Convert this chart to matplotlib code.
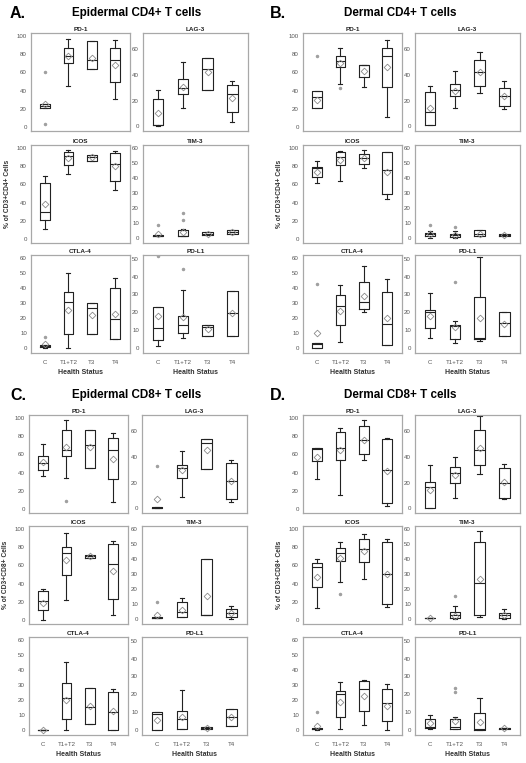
import matplotlib
matplotlib.use('Agg')
import matplotlib.pyplot as plt

plt.rcParams['font.family'] = ['Liberation Sans', 'DejaVu Sans']

W, H = 526, 763
fig = plt.figure(figsize=(W / 100, H / 100), dpi=100)

categories = ['C', 'T1+T2', 'T3', 'T4']
markers = ['PD-1', 'LAG-3', 'ICOS', 'TIM-3', 'CTLA-4', 'PD-L1']
panel_letters = ['A.', 'B.', 'C.', 'D.']
panel_titles = ['Epidermal CD4+ T cells', 'Dermal CD4+ T cells',
                'Epidermal CD8+ T cells', 'Dermal CD8+ T cells']
panel_ylabels = ['% of CD3+CD4+ Cells', '% of CD3+CD4+ Cells',
                 '% of CD3+CD8+ Cells', '% of CD3+CD8+ Cells']
xlabel = 'Health Status'

ticks_pd1 = [0, 20, 40, 60, 80, 100]
ticks_lag3 = [0, 20, 40, 60]
ticks_icos = [0, 20, 40, 60, 80, 100]
ticks_tim3 = [0, 10, 20, 30, 40, 50, 60]
ticks_ctla4 = [0, 10, 20, 30, 40, 50, 60]
ticks_pdl1 = [0, 10, 20, 30, 40, 50]

# each box: (whisker low, Q1, median, Q3, whisker high, mean), order C, T1+T2, T3, T4
A_PD1 = [(21, 21, 23, 25, 25, 26), (45, 70, 78, 87, 96, 78), (64, 64, 73, 94, 94, 76), (31, 50, 73.5, 86.5, 95, 68)]
A_PD1_out = [[60, 3.6], [], [], []]
A_LAG3 = [(0.5, 1, 1, 21, 28.4, 10.3), (14, 25, 30, 37, 50, 31), (28.4, 28.4, 44.4, 53, 53, 41.9), (3.4, 11.6, 25, 32.3, 35.4, 22)]
A_LAG3_out = [[], [], [], []]
A_ICOS = [(11, 20.8, 30, 61.7, 69, 38.3), (71, 81, 91, 95.6, 97.4, 88.3), (85.4, 85.4, 90, 92, 92, 90), (54.4, 63.5, 82.8, 94, 96, 80)]
A_ICOS_out = [[], [], [], []]
A_TIM3 = [(1, 1, 1.5, 2, 2, 2.7), (1, 1, 1.5, 5.4, 5.6, 3.8), (1.6, 1.6, 2.7, 3.8, 3.8, 2.7), (2.7, 2.7, 3.8, 4.9, 4.9, 3.8)]
A_TIM3_out = [[8.3], [16.5, 11.6], [], []]
A_CTLA4 = [(0.5, 0.7, 1.6, 2.2, 2.2, 3.3), (0.4, 9.3, 30.7, 37.3, 50, 25.6), (9.3, 9.3, 27, 30, 30, 22.2), (6.2, 6.2, 19.6, 39.8, 46.7, 22.9)]
A_CTLA4_out = [[7.8], [], [], []]
A_PDL1 = [(1.1, 4.7, 11.2, 22.8, 22.8, 18.1), (5.6, 8.6, 13, 18.1, 32.3, 17.5), (6.9, 6.9, 12.1, 13, 13, 10.6), (7.1, 7.1, 19.6, 31.7, 31.7, 19.6)]
A_PDL1_out = [[51.3], [44], [], []]

B_PD1 = [(21, 21, 33.5, 39.3, 39.3, 30), (47, 65.5, 72.7, 78, 87, 70), (43.6, 55, 68, 68, 68, 61.8), (11.6, 44.4, 78, 86.5, 95, 65.5)]
B_PD1_out = [[78], [43], [], []]
B_LAG3 = [(0.8, 0.8, 10.9, 27, 31.5, 14.2), (14.2, 23.8, 28.4, 32.8, 43.4, 27.9), (25.8, 31.5, 41.9, 51.2, 57.4, 41.9), (13.7, 16, 23.3, 30.2, 35.4, 23.3)]
B_LAG3_out = [[], [], [], []]
B_ICOS = [(61, 68.2, 78, 78.5, 85.8, 73.7), (63.5, 81, 90, 95.6, 96.7, 86.5), (77.4, 82.8, 88.3, 92.7, 97.4, 88.3), (44.5, 49.3, 75.5, 95.6, 95.6, 73)]
B_ICOS_out = [[], [], [], []]
B_TIM3 = [(0, 1.1, 2.2, 3.3, 4.5, 2.7), (0, 0.4, 1.6, 2.7, 4.5, 1.6), (0.9, 0.9, 2.7, 4.9, 4.9, 2.7), (1.3, 1.3, 1.8, 2.2, 2.2, 1.8)]
B_TIM3_out = [[8.7], [7.1], [], []]
B_CTLA4 = [(0.4, 0.4, 3.1, 3.6, 3.6, 10), (4.2, 15.7, 28, 35.3, 42, 25), (24.2, 26.2, 30.9, 44.3, 54.4, 35.1), (2.2, 2.2, 16.1, 37.6, 45.9, 20.1)]
B_CTLA4_out = [[43], [], [], []]
B_PDL1 = [(5.5, 11.3, 20.1, 21.6, 31, 17.9), (2.8, 5.3, 12.2, 13.2, 15.4, 11.7), (4.1, 5.1, 6, 28.6, 50.8, 16.9), (7.1, 7.1, 14.1, 20.3, 20.3, 13.7)]
B_PDL1_out = [[], [37], [], []]

C_PD1 = [(36.8, 43, 50.4, 58, 71, 52), (33.8, 57.7, 64.3, 87, 98, 68), (44.9, 44.9, 70.6, 86.4, 86.4, 68), (8.5, 33, 65, 78, 83.5, 55)]
C_PD1_out = [[], [9.2], [], []]
C_LAG3 = [(0, 0, 0.5, 1.3, 1.3, 7), (9.1, 23.5, 31.3, 34, 44.4, 29.5), (30.5, 30.5, 51, 54, 54, 45.2), (5.2, 7, 21.7, 35.2, 37.3, 21.4)]
C_LAG3_out = [[32.6], [], [], []]
C_ICOS = [(0, 11.7, 21, 32.3, 34.2, 19.2), (21.8, 49.2, 73.7, 80, 95, 66.2), (68, 68, 70, 71.8, 71.8, 70), (5.6, 23.7, 61.3, 83.8, 86.8, 53.8)]
C_ICOS_out = [[], [], [], []]
C_TIM3 = [(0.2, 0.2, 0.6, 1.1, 1.1, 2.3), (1.1, 1.1, 4.5, 11.3, 14.2, 5.9), (2.3, 2.3, 2.3, 40.2, 40.2, 14.9), (0, 1.4, 3.6, 6.3, 8.6, 3.6)]
C_TIM3_out = [[11.3], [], [], []]
C_CTLA4 = [(0, 0, 0.2, 0.5, 0.5, 0.2), (0, 7.9, 21.8, 31.5, 45.6, 20.2), (4.5, 4.5, 15.7, 28.5, 28.5, 16.4), (0, 0, 12.4, 25.4, 27.4, 13)]
C_CTLA4_out = [[], [], [], []]
C_PDL1 = [(0, 0, 9.3, 10, 10, 5.8), (0.6, 0.6, 6.5, 11, 22.3, 7.2), (0.7, 0.7, 1.3, 1.9, 1.9, 1.3), (2.4, 2.4, 7.2, 12.1, 12.1, 7.2)]
C_PDL1_out = [[], [], [], []]

D_PD1 = [(33, 52.7, 66.3, 67, 67, 57.6), (16, 53.8, 67, 84.8, 88.6, 65), (53.8, 60.6, 75.4, 90.5, 97.3, 75.4), (3.8, 6.4, 43.2, 77.3, 78, 42.4)]
D_PD1_out = [[], [], [], []]
D_LAG3 = [(0, 0, 16.9, 20.3, 34, 14.2), (8.4, 19.8, 27.4, 32.2, 40, 25.6), (26.9, 34, 45.4, 60.7, 71.8, 47.2), (7.1, 8.4, 19.5, 31.7, 34.8, 20.3)]
D_LAG3_out = [[], [], [], []]
D_ICOS = [(13, 36.2, 58, 62.7, 67.2, 47.8), (41.8, 64.5, 73.5, 79.5, 85, 68), (44.8, 64.2, 78.4, 88.4, 94.4, 75.7), (15, 17.5, 51.1, 85, 88.8, 51.1)]
D_ICOS_out = [[], [28.7], [], []]
D_TIM3 = [(0.2, 0.2, 0.4, 0.7, 0.7, 0.5), (0, 0.7, 2.3, 4.5, 8.6, 1.6), (1.1, 2.3, 24.2, 51, 58.4, 26.7), (0, 0.7, 2.3, 4.1, 6.3, 2.3)]
D_TIM3_out = [[], [15.2], [], []]
D_CTLA4 = [(0.3, 0.7, 1.1, 1.8, 1.8, 2.9), (0.7, 9, 24, 26.4, 32, 19), (3.8, 13, 27.3, 32.9, 33.3, 22.8), (0, 6, 18.3, 27.3, 30.6, 16.3)]
D_CTLA4_out = [[12.3], [], [], []]
D_PDL1 = [(0.6, 1.5, 2.1, 6.2, 8.7, 4), (0.6, 0.6, 2.1, 6.2, 7.5, 5.3), (0.2, 0.2, 0.6, 9.4, 17.9, 4.7), (0.9, 0.9, 1.1, 1.5, 1.5, 1.1)]
D_PDL1_out = [[], [23.6, 21.3], [], []]

panel_data = [
    [(A_PD1, A_PD1_out), (A_LAG3, A_LAG3_out), (A_ICOS, A_ICOS_out), (A_TIM3, A_TIM3_out), (A_CTLA4, A_CTLA4_out), (A_PDL1, A_PDL1_out)],
    [(B_PD1, B_PD1_out), (B_LAG3, B_LAG3_out), (B_ICOS, B_ICOS_out), (B_TIM3, B_TIM3_out), (B_CTLA4, B_CTLA4_out), (B_PDL1, B_PDL1_out)],
    [(C_PD1, C_PD1_out), (C_LAG3, C_LAG3_out), (C_ICOS, C_ICOS_out), (C_TIM3, C_TIM3_out), (C_CTLA4, C_CTLA4_out), (C_PDL1, C_PDL1_out)],
    [(D_PD1, D_PD1_out), (D_LAG3, D_LAG3_out), (D_ICOS, D_ICOS_out), (D_TIM3, D_TIM3_out), (D_CTLA4, D_CTLA4_out), (D_PDL1, D_PDL1_out)],
]
marker_ticks = [ticks_pd1, ticks_lag3, ticks_icos, ticks_tim3, ticks_ctla4, ticks_pdl1]
marker_ylims = [(-4, 103), (-3.5, 72.5), (-4, 103), (-3.5, 62), (-3, 62), (-2.6, 52)]

# layout (pixels, top-left origin)
panel_cols = [(31, 143), (303, 415), (29, 142), (303, 415)]
panel_rows = [(33, 145, 255), (33, 145, 255), (415, 526, 637), (415, 526, 637)]
col_w = (99, 105)
row_h = 98
panel_head = [(10, 137, 13), (270, 400, 13), (10, 137, 395), (270, 400, 395)]

gray_txt = '#555555'
spine_col = '#a8a8a8'
box_col = '#222222'
mean_col = '#8a8a8a'

def px_axes(x, y, w, h):
    return fig.add_axes([x / W, 1 - (y + h) / H, w / W, h / H])

for p in range(4):
    lx, tx, ty = panel_head[p]
    fig.text(lx / W, 1 - ty / H, panel_letters[p], fontsize=11.5, fontweight='bold',
             ha='left', va='center')
    fig.text(tx / W, 1 - ty / H, panel_titles[p], fontsize=8.4, fontweight='bold',
             ha='center', va='center')
    for m in range(6):
        r, c = divmod(m, 2)
        x = panel_cols[p][c]
        y = panel_rows[p][r]
        ax = px_axes(x, y, col_w[c], row_h)
        boxes, outs = panel_data[p][m]
        stats = []
        for i, b in enumerate(boxes):
            stats.append(dict(whislo=b[0], q1=b[1], med=b[2], q3=b[3], whishi=b[4],
                              mean=b[5], fliers=outs[i], label=categories[i]))
        ax.bxp(stats, positions=[1, 2, 3, 4], widths=0.42, capwidths=0.17,
               showmeans=True, showfliers=True,
               boxprops=dict(color=box_col, linewidth=0.8),
               whiskerprops=dict(color=box_col, linewidth=0.8),
               capprops=dict(color=box_col, linewidth=0.8),
               medianprops=dict(color=box_col, linewidth=0.8),
               meanprops=dict(marker='D', markersize=3.4, markerfacecolor='none',
                              markeredgecolor=mean_col, markeredgewidth=0.6),
               flierprops=dict(marker='o', markersize=1.5, markerfacecolor='#a0a0a0',
                               markeredgecolor='#a0a0a0'))
        ax.set_xlim(0.4, 4.63)
        ax.set_ylim(*marker_ylims[m])
        ax.set_yticks(marker_ticks[m])
        ax.tick_params(axis='both', length=0, labelsize=4.4, labelcolor=gray_txt, pad=3)
        for s in ax.spines.values():
            s.set_color(spine_col)
            s.set_linewidth(0.9)
        ax.set_title(markers[m], fontsize=4.6, fontweight='bold', pad=1.5, color='#222222')
        if r == 2:
            ax.set_xticks([1, 2, 3, 4])
            ax.set_xticklabels(categories)
            ax.tick_params(axis='x', pad=5)
            ax.set_xlabel(xlabel, fontsize=5, fontweight='bold', color='#333333', labelpad=3)
        else:
            ax.set_xticks([])
        if m == 2:
            ax.text(-0.24, 0.5, panel_ylabels[p], transform=ax.transAxes, rotation=90,
                    fontsize=4.8, fontweight='bold', color='#333333', ha='center', va='center')

fig.savefig('out.png', dpi=100)
